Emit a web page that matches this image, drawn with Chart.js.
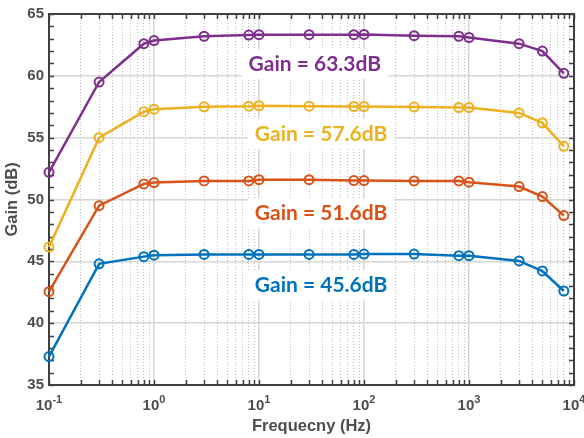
<!DOCTYPE html>
<html>
<head>
<meta charset="utf-8">
<script src="https://cdn.jsdelivr.net/npm/chart.js@4.4.1/dist/chart.umd.min.js"></script>
<style>
  html, body { margin: 0; padding: 0; background: #fff; }
</style>
</head>
<body>
<canvas id="chart" width="584" height="438"></canvas>
<script>
// Measured frequencies (Hz), same for every curve
const freqs = [0.1, 0.3, 0.8, 1, 3, 8, 10, 30, 80, 100, 300, 800, 1000, 3000, 5000, 8000];

// Gain curves (dB)
const gain63 = [52.2, 59.5, 62.6, 62.85, 63.2, 63.3, 63.33, 63.33, 63.33, 63.35, 63.25, 63.2, 63.1, 62.6, 62.0, 60.2];
const gain57 = [46.15, 55.0, 57.1, 57.3, 57.5, 57.55, 57.58, 57.55, 57.52, 57.52, 57.47, 57.44, 57.44, 57.0, 56.2, 54.3];
const gain51 = [42.55, 49.5, 51.26, 51.37, 51.5, 51.5, 51.6, 51.6, 51.53, 51.53, 51.5, 51.5, 51.4, 51.05, 50.24, 48.7];
const gain45 = [37.3, 44.8, 45.38, 45.5, 45.56, 45.56, 45.56, 45.56, 45.56, 45.59, 45.59, 45.46, 45.46, 45.03, 44.22, 42.6];

const seriesNames = ['Gain = 63.3dB', 'Gain = 57.6dB', 'Gain = 51.6dB', 'Gain = 45.6dB'];

// Tick labels
const xDecades = [0.1, 1, 10, 100, 1000, 10000];
const xExponents = ['-1', '0', '1', '2', '3', '4'];
const yTickLabels = [35, 40, 45, 50, 55, 60, 65];

// Colours (MATLAB default order)
const colors = ['#7E2F8E', '#EDB120', '#D95319', '#0072BD'];
const axisColor = '#404040';
const textColor = '#4d4d4d';
const tickFont = '"Liberation Sans", Arial, sans-serif';

// where each annotation is centred, in data units
const labelAnchors = [
    { x: 34, y: 60.95 },
    { x: 39, y: 55.3 },
    { x: 39, y: 48.85 },
    { x: 39, y: 43.05 }
];

function isDecade(v) {
    const e = Math.log10(v);
    return Math.abs(e - Math.round(e)) < 1e-6;
}

// all x ticks: 1..9 of each decade + 10^4
const xTickValues = [];
for (let d = -1; d <= 3; d++) {
    for (let m = 1; m <= 9; m++) {
        xTickValues.push(+(m * Math.pow(10, d)).toPrecision(3));
    }
}
xTickValues.push(10000);

const yTickValues = [];
for (let v = 35; v <= 65; v++) yTickValues.push(v);

// Frame, inward tick marks and white label boxes
const frameAndTicks = {
    id: 'frameAndTicks',
    beforeDatasetsDraw(chart) {
        const { ctx, chartArea: a, scales: { x, y } } = chart;
        ctx.save();

        // annotation boxes (white, hide grid)
        ctx.font = 'bold 21px Lato';
        labelAnchors.forEach((p, i) => {
            const cx = x.getPixelForValue(p.x);
            const cy = y.getPixelForValue(p.y);
            const w = ctx.measureText(seriesNames[i]).width + 14;
            ctx.fillStyle = '#fff';
            ctx.fillRect(cx - w / 2, cy - 15, w, 30);
        });

        ctx.strokeStyle = axisColor;
        ctx.lineWidth = 1.5;
        ctx.beginPath();
        x.ticks.forEach(t => {
            const px = Math.round(x.getPixelForValue(t.value)) + 0.5;
            ctx.moveTo(px, a.bottom); ctx.lineTo(px, a.bottom - 5);
            ctx.moveTo(px, a.top); ctx.lineTo(px, a.top + 5);
        });
        y.ticks.forEach(t => {
            const py = Math.round(y.getPixelForValue(t.value)) + 0.5;
            ctx.moveTo(a.left, py); ctx.lineTo(a.left + 5, py);
            ctx.moveTo(a.right, py); ctx.lineTo(a.right - 5, py);
        });
        ctx.stroke();

        ctx.lineWidth = 2;
        ctx.strokeRect(a.left, a.top, a.width, a.height);
        ctx.restore();
    },
    afterDraw(chart) {
        const { ctx, scales: { x, y } } = chart;
        ctx.save();
        ctx.fillStyle = textColor;
        ctx.textBaseline = 'alphabetic';
        ctx.textAlign = 'left';

        // x tick labels as 10 with superscript exponent
        xDecades.forEach((v, i) => {
            const px = x.getPixelForValue(v);
            ctx.font = 'bold 15px ' + tickFont;
            const wb = ctx.measureText('10').width;
            ctx.font = 'bold 11px ' + tickFont;
            const we = ctx.measureText(xExponents[i]).width;
            const left = px - (wb + we) / 2;
            ctx.font = 'bold 15px ' + tickFont;
            ctx.fillText('10', left, 410);
            ctx.font = 'bold 11px ' + tickFont;
            ctx.fillText(xExponents[i], left + wb, 403);
        });

        // gain annotations
        ctx.font = 'bold 21px Lato';
        ctx.textAlign = 'center';
        ctx.textBaseline = 'middle';
        labelAnchors.forEach((p, i) => {
            ctx.fillStyle = colors[i];
            ctx.fillText(seriesNames[i], x.getPixelForValue(p.x), y.getPixelForValue(p.y));
        });
        ctx.restore();
    }
};

const datasets = [gain63, gain57, gain51, gain45].map((g, i) => ({
    label: seriesNames[i],
    data: freqs.map((f, j) => ({ x: f, y: g[j] })),
    borderColor: colors[i],
    backgroundColor: colors[i],
    borderWidth: 2.5,
    pointRadius: 4.5,
    pointBorderWidth: 2,
    pointBackgroundColor: 'rgba(0,0,0,0)',
    pointBorderColor: colors[i],
    tension: 0,
    clip: false
}));

new Chart(document.getElementById('chart'), {
    type: 'line',
    data: { datasets },
    options: {
        responsive: false,
        animation: false,
        devicePixelRatio: 1,
        layout: { padding: { top: 13, right: 10, left: 0, bottom: 0 } },
        plugins: {
            legend: { display: false },
            tooltip: { enabled: false }
        },
        scales: {
            x: {
                type: 'logarithmic',
                min: 0.1,
                max: 10000,
                afterBuildTicks: scale => { scale.ticks = xTickValues.map(v => ({ value: v })); },
                afterFit: scale => { scale.height = 53; },
                ticks: { display: false },
                grid: {
                    drawTicks: false,
                    color: c => isDecade(c.tick.value) ? '#d6d6d6' : '#bdbdbd',
                    lineWidth: c => isDecade(c.tick.value) ? 1.5 : 1
                },
                border: {
                    display: false,
                    dash: c => (c.tick && isDecade(c.tick.value)) ? [] : [1, 2]
                },
                title: {
                    display: true,
                    text: 'Frequecny (Hz)',
                    color: textColor,
                    font: { family: tickFont, size: 16.5, weight: 'bold' },
                    padding: { top: 0, bottom: 2 }
                }
            },
            y: {
                min: 35,
                max: 65,
                afterBuildTicks: scale => { scale.ticks = yTickValues.map(v => ({ value: v })); },
                afterFit: scale => { scale.width = 49; },
                ticks: {
                    autoSkip: false,
                    padding: 5,
                    color: textColor,
                    font: { family: tickFont, size: 15, weight: 'bold' },
                    callback: v => yTickLabels.includes(v) ? String(v) : ''
                },
                grid: {
                    drawTicks: false,
                    color: c => yTickLabels.includes(c.tick.value) ? '#d6d6d6' : 'rgba(0,0,0,0)',
                    lineWidth: 1.5
                },
                border: { display: false },
                title: {
                    display: true,
                    text: 'Gain (dB)',
                    color: textColor,
                    font: { family: tickFont, size: 16.5, weight: 'bold' },
                    padding: { top: 3, bottom: 0 }
                }
            }
        }
    },
    plugins: [frameAndTicks]
});
</script>
</body>
</html>
